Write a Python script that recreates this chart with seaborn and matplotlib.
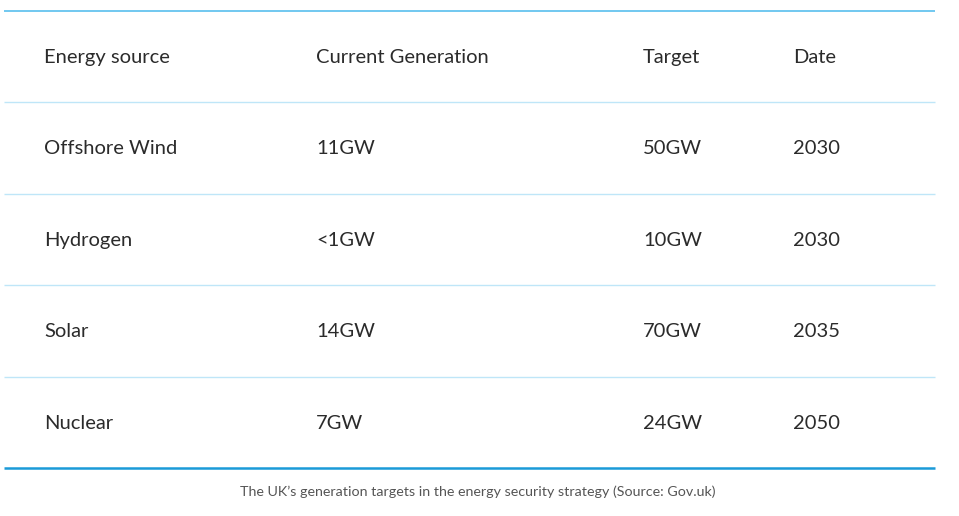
import matplotlib
matplotlib.use("Agg")
import matplotlib.pyplot as plt
import seaborn as sns

sns.set_theme(style="white")
plt.rcParams['font.family'] = ['Lato', 'DejaVu Sans']

headers = ["Energy source", "Current Generation", "Target", "Date"]
sources = ["Offshore Wind", "Hydrogen", "Solar", "Nuclear"]
current = ["11GW", "<1GW", "14GW", "7GW"]
targets = ["50GW", "10GW", "70GW", "24GW"]
dates = ["2030", "2030", "2035", "2050"]
caption = "The UK\u2019s generation targets in the energy security strategy (Source: Gov.uk)"

W, H = 959, 516
fig = plt.figure(figsize=(W / 100, H / 100), dpi=100)
ax = fig.add_axes([0, 0, 1, 1])
ax.set_xlim(0, W)
ax.set_ylim(H, 0)
ax.axis("off")

col_x = [44, 316, 643, 793]
row_top = 10.5
row_h = 91.5
x0, x1 = 4, 935

rows = [headers] + [list(r) for r in zip(sources, current, targets, dates)]
text_color = "#2b2b2b"
for i, row in enumerate(rows):
    yc = row_top + row_h * (i + 0.5) + 1
    for x, t in zip(col_x, row):
        ax.text(x, yc, t, ha="left", va="center", fontsize=14.5, color=text_color)

# top line
ax.hlines(row_top, x0, x1, color="#66c4ef", lw=1.3)
# separators
for i in range(1, len(rows)):
    ax.hlines(row_top + row_h * i, x0, x1, color="#bfe6f8", lw=1.0)
# bottom line
ax.hlines(row_top + row_h * len(rows) - 0.5, x0, x1, color="#1a9ad8", lw=1.8)

ax.text(478, 492, caption, ha="center", va="center", fontsize=10.25, color="#555555")

fig.savefig("out.png", dpi=100)
